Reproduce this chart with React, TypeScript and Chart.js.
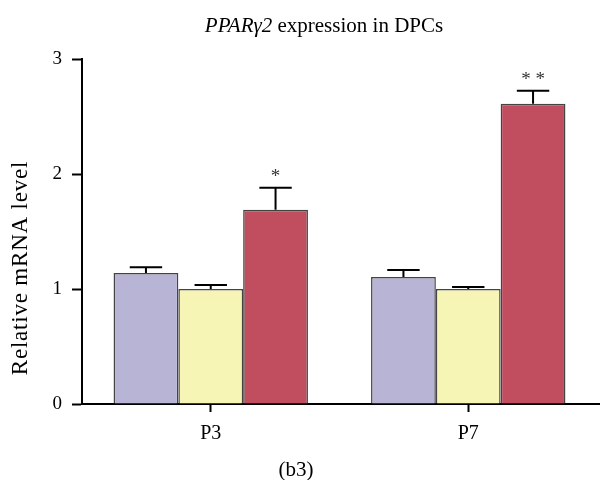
import React, { useEffect, useRef } from "react";
import { Chart, registerables } from "chart.js";

Chart.register(...registerables);

const categories = ["P3", "P7"];
const seriesNames = ["Group A", "Group B", "Group C"];
const seriesA = [1.14, 1.105];
const seriesB = [1.0, 1.0];
const seriesC = [1.69, 2.61];
const errA = [0.05, 0.06];
const errB = [0.035, 0.017];
const errC = [0.19, 0.115];
const sigC = ["*", "* *"];
const yTicks = [0, 1, 2, 3];

const colors = ["#b8b4d6", "#f7f5b5", "#c04e5f"];
const SERIF = "'Liberation Serif', 'DejaVu Serif', serif";

const overlayPlugin = {
  id: "overlay",
  afterDatasetsDraw(chart: any) {
    const ctx = chart.ctx;
    const y = chart.scales.y;
    const errs = [errA, errB, errC];
    const vals = [seriesA, seriesB, seriesC];
    ctx.save();
    chart.data.datasets.forEach((_: any, di: number) => {
      const meta = chart.getDatasetMeta(di);
      meta.data.forEach((bar: any, i: number) => {
        const top = y.getPixelForValue(vals[di][i]);
        const capY = y.getPixelForValue(vals[di][i] + errs[di][i]);
        const half = bar.width / 4;
        ctx.strokeStyle = "#000";
        ctx.lineWidth = 2;
        ctx.beginPath();
        ctx.moveTo(bar.x, top);
        ctx.lineTo(bar.x, capY);
        ctx.moveTo(bar.x - half, capY);
        ctx.lineTo(bar.x + half, capY);
        ctx.stroke();
        if (di === 2) {
          ctx.fillStyle = "#333";
          ctx.font = `19px ${SERIF}`;
          ctx.textAlign = "center";
          ctx.textBaseline = "middle";
          ctx.fillText(sigC[i], bar.x, capY - 11);
        }
      });
    });
    // extend the x axis line to the canvas edge
    const area = chart.chartArea;
    ctx.strokeStyle = "#000";
    ctx.lineWidth = 2;
    ctx.beginPath();
    ctx.moveTo(area.right - 1, area.bottom);
    ctx.lineTo(chart.width, area.bottom);
    ctx.stroke();
    ctx.restore();
  },
  afterDraw(chart: any) {
    const ctx = chart.ctx;
    ctx.save();
    ctx.fillStyle = "#000";
    // Title with italic gene name
    const t1 = "PPARγ2";
    const t2 = " expression in DPCs";
    ctx.textBaseline = "middle";
    ctx.textAlign = "left";
    ctx.font = `italic 21px ${SERIF}`;
    const w1 = ctx.measureText(t1).width;
    ctx.font = `21px ${SERIF}`;
    const w2 = ctx.measureText(t2).width;
    const cx = 324;
    const startX = cx - (w1 + w2) / 2;
    ctx.font = `italic 21px ${SERIF}`;
    ctx.fillText(t1, startX, 26);
    ctx.font = `21px ${SERIF}`;
    ctx.fillText(t2, startX + w1, 26);
    // y axis title
    ctx.save();
    ctx.translate(21, 268);
    ctx.rotate(-Math.PI / 2);
    ctx.textAlign = "center";
    ctx.font = `23px ${SERIF}`;
    (ctx as any).letterSpacing = "0.8px";
    ctx.fillText("Relative mRNA level", 0, 0);
    ctx.restore();
    // panel label
    ctx.textAlign = "center";
    ctx.font = `21px ${SERIF}`;
    ctx.fillText("(b3)", 296, 470);
    ctx.restore();
  },
};

export default function App() {
  const ref = useRef<HTMLCanvasElement>(null);
  useEffect(() => {
    if (!ref.current) return;
    const chart = new Chart(ref.current, {
      type: "bar",
      data: {
        labels: categories,
        datasets: [seriesA, seriesB, seriesC].map((d, i) => ({
          label: seriesNames[i],
          data: d,
          backgroundColor: colors[i],
          borderColor: "#444",
          borderWidth: 1.5,
          categoryPercentage: 0.755,
          barPercentage: 1,
        })),
      },
      options: {
        animation: false,
        responsive: true,
        maintainAspectRatio: false,
        layout: { padding: { top: 59, left: 0, right: 3, bottom: 0 } },
        plugins: {
          legend: { display: false },
          title: { display: false },
          tooltip: { enabled: false },
        },
        scales: {
          x: {
            grid: {
              offset: false,
              drawOnChartArea: false,
              tickLength: 8,
              tickColor: "#000",
              tickWidth: 2,
            },
            border: { display: true, color: "#000", width: 2 },
            ticks: {
              color: "#000",
              font: { family: SERIF, size: 20 },
              padding: 10,
            },
            afterFit: (s: any) => {
              s.height = 76;
            },
          },
          y: {
            min: 0,
            max: 3,
            afterBuildTicks: (s: any) => {
              s.ticks = yTicks.map((v) => ({ value: v }));
            },
            grid: {
              drawOnChartArea: false,
              tickLength: 10,
              tickColor: "#000",
              tickWidth: 2,
            },
            border: { display: true, color: "#000", width: 2 },
            ticks: {
              color: "#000",
              font: { family: SERIF, size: 19 },
              padding: 10,
            },
            afterFit: (s: any) => {
              s.width = 82;
            },
          },
        },
      },
      plugins: [overlayPlugin],
    });
    return () => chart.destroy();
  }, []);
  return (
    <div style={{ position: "absolute", left: 0, top: 0, width: 600, height: 480, background: "#fff" }}>
      <canvas ref={ref} />
    </div>
  );
}
